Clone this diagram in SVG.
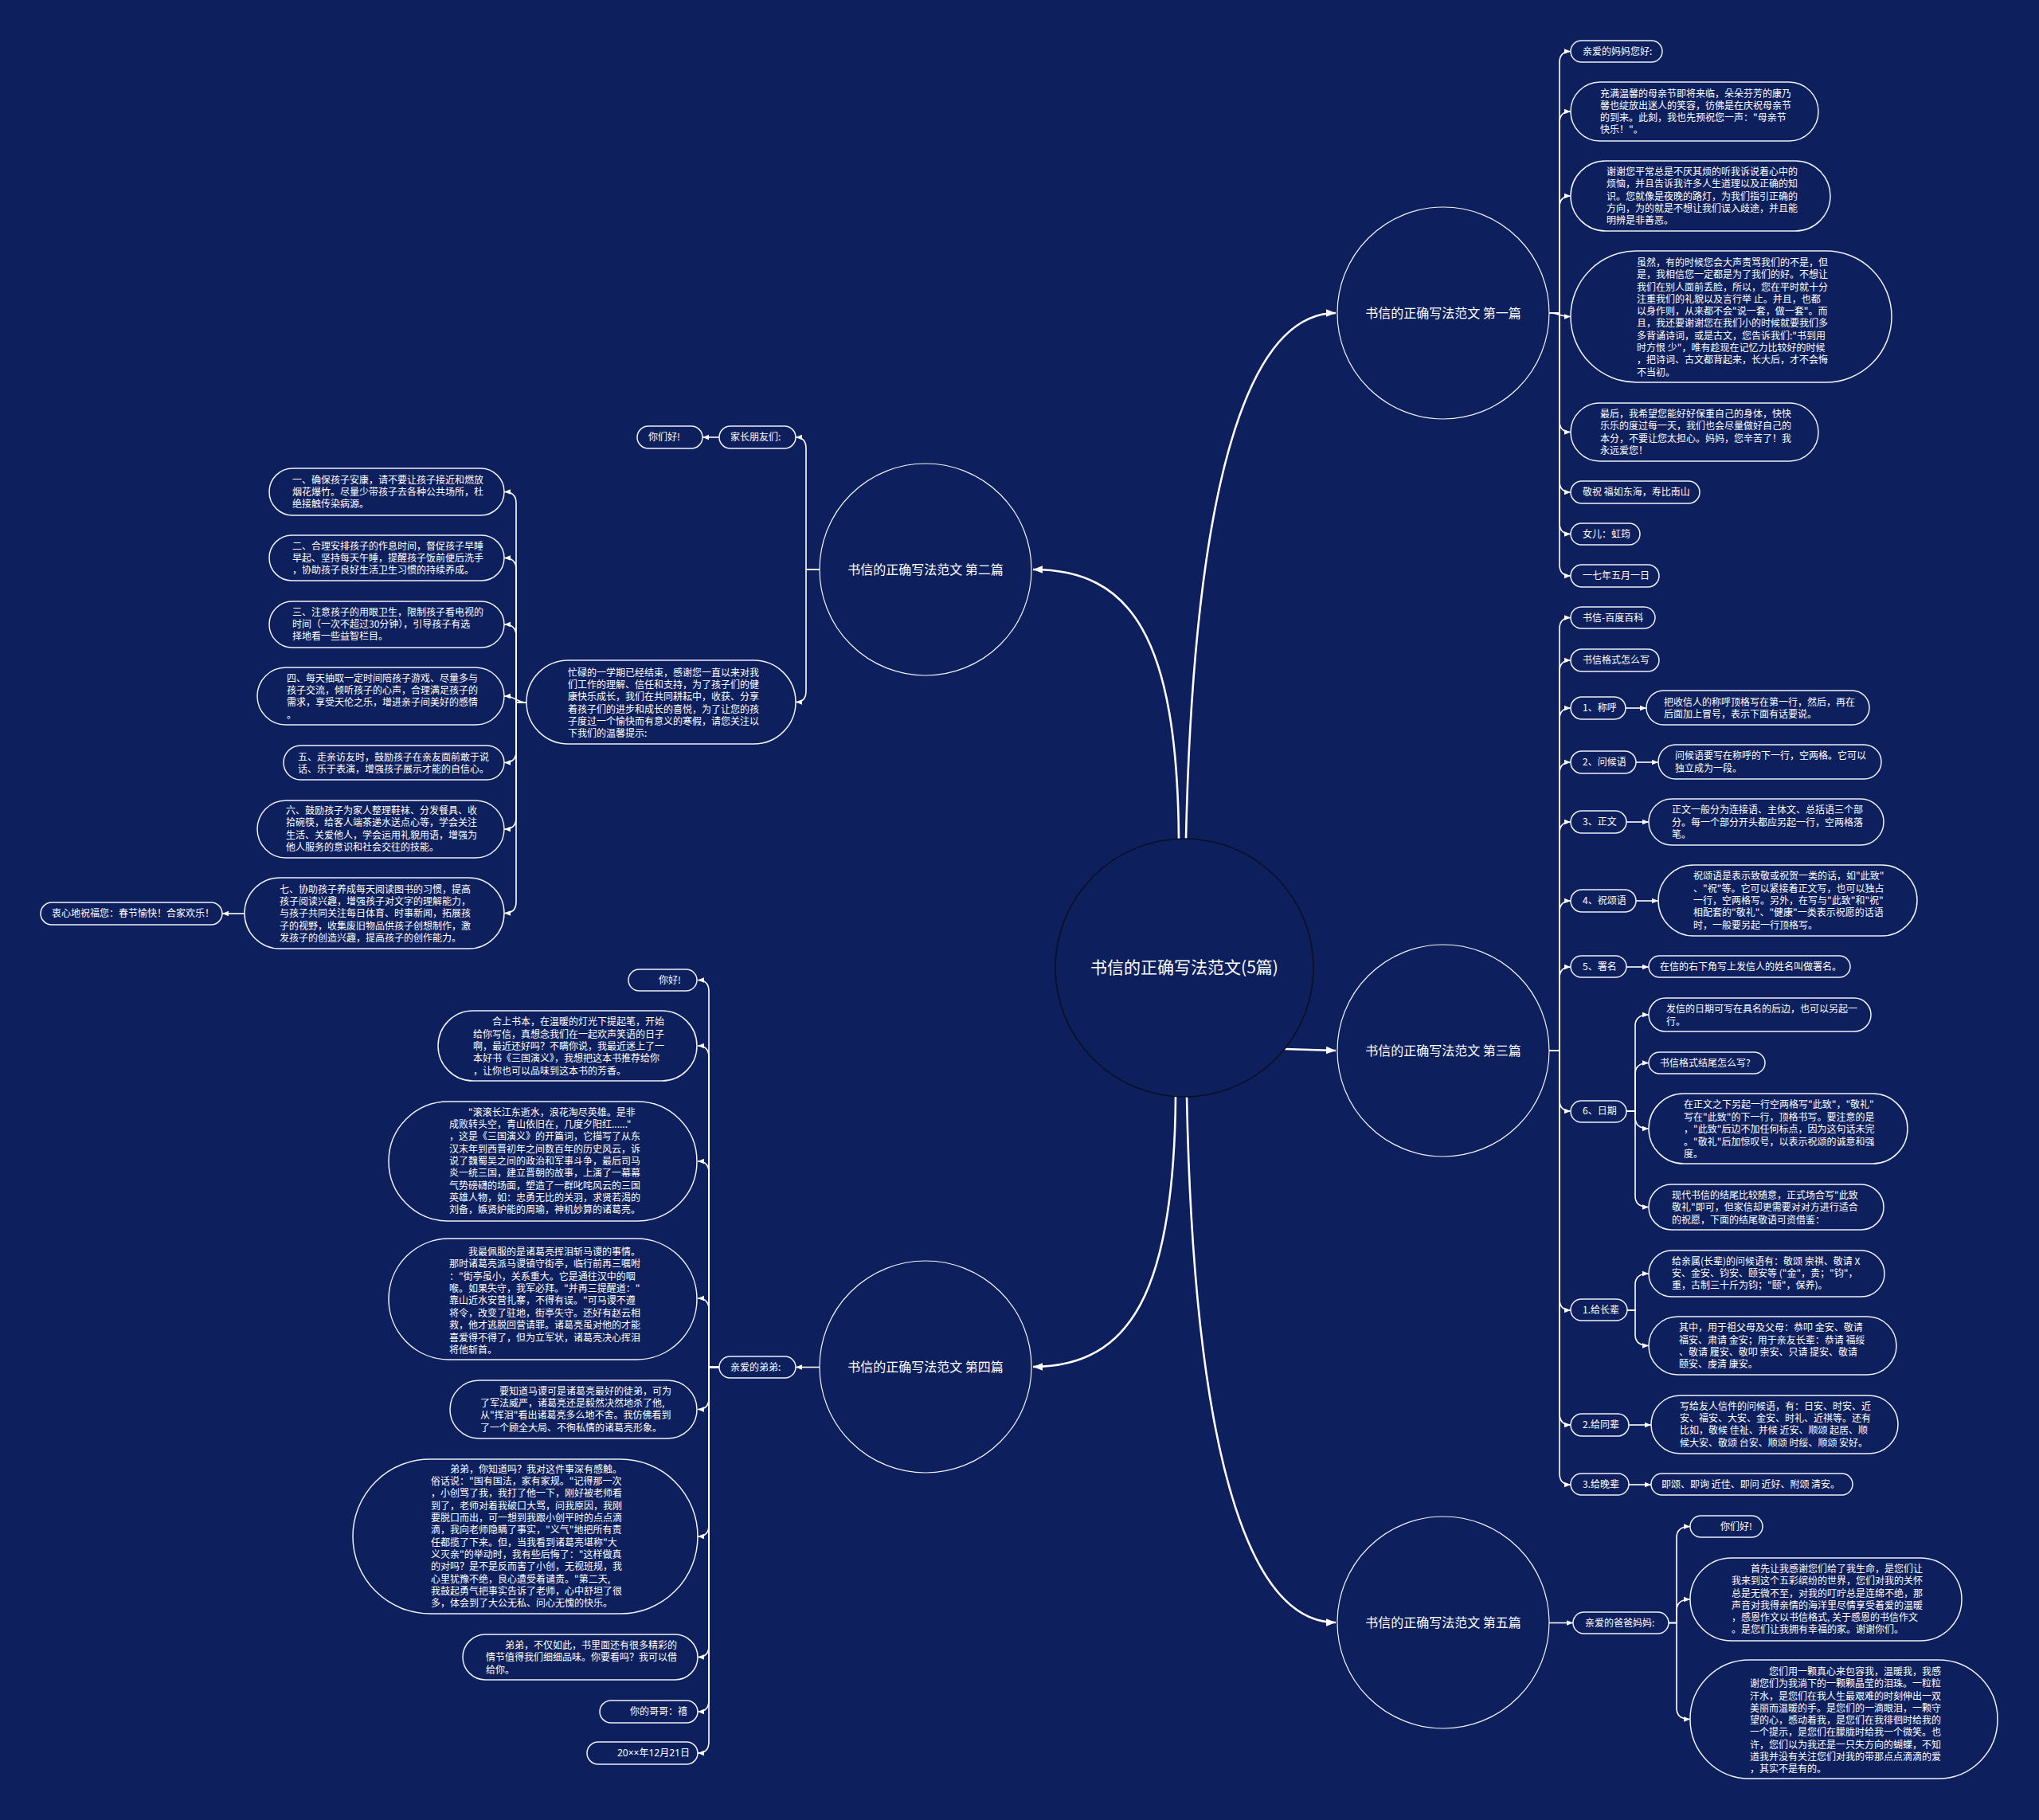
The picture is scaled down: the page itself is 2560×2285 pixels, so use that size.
<svg xmlns="http://www.w3.org/2000/svg" width="2560" height="2285" viewBox="0 0 2560 2285">
<defs>
<style>
.bg{fill:#0d1f5c}
.n{fill:#0d1f5c;stroke:#eef1f8;stroke-width:1.5}
.c{fill:#0d1f5c;stroke:#f2f4fa;stroke-width:1.2}
.root{fill:#0d1f5c;stroke:#0a0f22;stroke-width:1.5}
text{font-family:"Noto Sans CJK SC","Noto Sans",sans-serif;fill:#ffffff}
.t{font-size:12px}
.b{font-size:16px;text-anchor:middle}
.r{font-size:21px;text-anchor:middle}
.l{fill:none;stroke:#ffffff;stroke-width:1.6}
.m{fill:none;stroke:#ffffff;stroke-width:2.6}
.x{font-family:"Noto Sans","Noto Sans CJK SC",sans-serif}
</style>
<marker id="a" viewBox="0 0 10 10" refX="10" refY="5" markerWidth="8" markerHeight="8" markerUnits="userSpaceOnUse" orient="auto"><path d="M0,1 L10,5 L0,9 z" fill="#ffffff"/></marker>
<marker id="A" viewBox="0 0 10 10" refX="10" refY="5" markerWidth="12" markerHeight="12" markerUnits="userSpaceOnUse" orient="auto"><path d="M0,1 L10,5 L0,9 z" fill="#ffffff"/></marker>
</defs>
<rect class="bg" x="0" y="0" width="2560" height="2285"/>

<g id="connectors">
<path class="m" marker-end="url(#A)" d="M1489,1053 C1500,560 1580,393 1677,393"/>
<path class="m" marker-end="url(#A)" d="M1480,1053 C1478,800 1420,715 1297,715"/>
<path class="m" marker-end="url(#A)" d="M1613,1317 L1677,1319"/>
<path class="m" marker-end="url(#A)" d="M1476,1377 C1474,1620 1420,1716 1297,1716"/>
<path class="m" marker-end="url(#A)" d="M1490,1377 C1500,1870 1580,2037 1677,2037"/>

<path class="l" marker-end="url(#a)" d="M1945,393 H1958 V78.5 Q1958,64.5 1972,64.5"/>
<path class="l" marker-end="url(#a)" d="M1945,393 H1958 V154 Q1958,140 1972,140"/>
<path class="l" marker-end="url(#a)" d="M1945,393 H1958 V260 Q1958,246 1972,246"/>
<path class="l" marker-end="url(#a)" d="M1945,393 C1958,393 1958,397.5 1972,397.5"/>
<path class="l" marker-end="url(#a)" d="M1945,393 H1958 V528.5 Q1958,542.5 1972,542.5"/>
<path class="l" marker-end="url(#a)" d="M1945,393 H1958 V604 Q1958,618 1972,618"/>
<path class="l" marker-end="url(#a)" d="M1945,393 H1958 V656.5 Q1958,670.5 1972,670.5"/>
<path class="l" marker-end="url(#a)" d="M1945,393 H1958 V709 Q1958,723 1972,723"/>

<path class="l" marker-end="url(#a)" d="M1945,1319 H1958 V789.5 Q1958,775.5 1972,775.5"/>
<path class="l" marker-end="url(#a)" d="M1945,1319 H1958 V843 Q1958,829 1972,829"/>
<path class="l" marker-end="url(#a)" d="M1945,1319 H1958 V903 Q1958,889 1972,889"/>
<path class="l" marker-end="url(#a)" d="M1945,1319 H1958 V971 Q1958,957 1972,957"/>
<path class="l" marker-end="url(#a)" d="M1945,1319 H1958 V1046 Q1958,1032 1972,1032"/>
<path class="l" marker-end="url(#a)" d="M1945,1319 H1958 V1145 Q1958,1131 1972,1131"/>
<path class="l" marker-end="url(#a)" d="M1945,1319 H1958 V1228 Q1958,1214 1972,1214"/>
<path class="l" marker-end="url(#a)" d="M1945,1319 H1958 V1381 Q1958,1395 1972,1395"/>
<path class="l" marker-end="url(#a)" d="M1945,1319 H1958 V1631 Q1958,1645 1972,1645"/>
<path class="l" marker-end="url(#a)" d="M1945,1319 H1958 V1775 Q1958,1789 1972,1789"/>
<path class="l" marker-end="url(#a)" d="M1945,1319 H1958 V1850 Q1958,1864 1972,1864"/>
<path class="l" marker-end="url(#a)" d="M2041,889 H2067"/>
<path class="l" marker-end="url(#a)" d="M2054,957 H2082"/>
<path class="l" marker-end="url(#a)" d="M2042,1032 H2070"/>
<path class="l" marker-end="url(#a)" d="M2054,1131 H2082"/>
<path class="l" marker-end="url(#a)" d="M2042,1214 H2070"/>
<path class="l" marker-end="url(#a)" d="M2042,1395 H2053 V1288 Q2053,1274 2070,1274"/>
<path class="l" marker-end="url(#a)" d="M2042,1395 H2053 V1348.5 Q2053,1334.5 2070,1334.5"/>
<path class="l" marker-end="url(#a)" d="M2042,1395 H2053 V1403 Q2053,1417 2070,1417"/>
<path class="l" marker-end="url(#a)" d="M2042,1395 H2053 V1501.5 Q2053,1515.5 2070,1515.5"/>
<path class="l" marker-end="url(#a)" d="M2043,1645 H2053 V1613 Q2053,1599 2070,1599"/>
<path class="l" marker-end="url(#a)" d="M2043,1645 H2053 V1675.5 Q2053,1689.5 2070,1689.5"/>
<path class="l" marker-end="url(#a)" d="M2045,1789 H2073"/>
<path class="l" marker-end="url(#a)" d="M2045,1864 H2073"/>

<path class="l" marker-end="url(#a)" d="M1945,2037.5 H1975"/>
<path class="l" marker-end="url(#a)" d="M2095,2037.5 H2105 V1930.5 Q2105,1916.5 2122,1916.5"/>
<path class="l" marker-end="url(#a)" d="M2095,2037.5 H2105 V2022 Q2105,2008 2122,2008"/>
<path class="l" marker-end="url(#a)" d="M2095,2037.5 H2105 V2144.5 Q2105,2158.5 2122,2158.5"/>

<path class="l" marker-end="url(#a)" d="M1029,715 H1012 V563 Q1012,549 999,549"/>
<path class="l" marker-end="url(#a)" d="M1029,715 H1012 V867.5 Q1012,881.5 999,881.5"/>
<path class="l" marker-end="url(#a)" d="M903,549 H882"/>
<path class="l" marker-end="url(#a)" d="M661,882 H648 V631.5 Q648,617.5 633,617.5"/>
<path class="l" marker-end="url(#a)" d="M661,882 H648 V714.5 Q648,700.5 633,700.5"/>
<path class="l" marker-end="url(#a)" d="M661,882 H648 V798 Q648,784 633,784"/>
<path class="l" marker-end="url(#a)" d="M661,882 C648,882 648,874 633,874"/>
<path class="l" marker-end="url(#a)" d="M661,882 H648 V943.5 Q648,957.5 633,957.5"/>
<path class="l" marker-end="url(#a)" d="M661,882 H648 V1027 Q648,1041 633,1041"/>
<path class="l" marker-end="url(#a)" d="M661,882 H648 V1132.5 Q648,1146.5 633,1146.5"/>
<path class="l" marker-end="url(#a)" d="M307,1147 H279"/>

<path class="l" marker-end="url(#a)" d="M1029,1716.5 H999"/>
<path class="l" marker-end="url(#a)" d="M903,1716.5 H890 V1244.5 Q890,1230.5 876,1230.5"/>
<path class="l" marker-end="url(#a)" d="M903,1716.5 H890 V1327 Q890,1313 876,1313"/>
<path class="l" marker-end="url(#a)" d="M903,1716.5 H890 V1472 Q890,1458 876,1458"/>
<path class="l" marker-end="url(#a)" d="M903,1716.5 H890 V1644 Q890,1630 876,1630"/>
<path class="l" marker-end="url(#a)" d="M903,1716.5 H890 V1755.5 Q890,1769.5 876,1769.5"/>
<path class="l" marker-end="url(#a)" d="M903,1716.5 H890 V1915 Q890,1929 876,1929"/>
<path class="l" marker-end="url(#a)" d="M903,1716.5 H890 V2066.5 Q890,2080.5 876,2080.5"/>
<path class="l" marker-end="url(#a)" d="M903,1716.5 H890 V2135 Q890,2149 876,2149"/>
<path class="l" marker-end="url(#a)" d="M903,1716.5 H890 V2187 Q890,2201 876,2201"/>
</g>

<g id="root"><circle class="root" cx="1487" cy="1215" r="162"/><text class="r" x="1487" y="1222">书信的正确写法范文(5篇)</text></g>

<g id="b1"><circle class="c" cx="1812" cy="393" r="133"/><text class="b" x="1812" y="399">书信的正确写法范文 第一篇</text></g>
<g id="b2"><circle class="c" cx="1162" cy="715" r="133"/><text class="b" x="1162" y="721">书信的正确写法范文 第二篇</text></g>
<g id="b3"><circle class="c" cx="1812" cy="1319" r="133"/><text class="b" x="1812" y="1325">书信的正确写法范文 第三篇</text></g>
<g id="b4"><circle class="c" cx="1162" cy="1716" r="133"/><text class="b" x="1162" y="1722">书信的正确写法范文 第四篇</text></g>
<g id="b5"><circle class="c" cx="1812" cy="2037" r="133"/><text class="b" x="1812" y="2043">书信的正确写法范文 第五篇</text></g>

<g id="n1_1"><rect class="n" x="1972" y="51" width="115" height="27" rx="13.5"/><text class="t" x="1987" y="68.5">亲爱的妈妈您好:</text></g>
<g id="n1_2"><rect class="n" x="1972" y="103" width="311" height="74" rx="37"/><text class="t"><tspan x="2009" y="122">充满温馨的母亲节即将来临，朵朵芬芳的康乃</tspan><tspan x="2009" y="137">馨也绽放出迷人的笑容，彷佛是在庆祝母亲节</tspan><tspan x="2009" y="152">的到来。此刻，我也先预祝您一声："母亲节</tspan><tspan x="2009" y="167">快乐！"。</tspan></text></g>
<g id="n1_3"><rect class="n" x="1972" y="202" width="326" height="88" rx="44"/><text class="t"><tspan x="2017" y="220">谢谢您平常总是不厌其烦的听我诉说着心中的</tspan><tspan x="2017" y="235">烦恼，并且告诉我许多人生道理以及正确的知</tspan><tspan x="2017" y="251">识。您就像是夜晚的路灯，为我们指引正确的</tspan><tspan x="2017" y="266">方向，为的就是不想让我们误入歧途，并且能</tspan><tspan x="2017" y="281">明辨是非善恶。</tspan></text></g>
<g id="n1_4"><rect class="n" x="1972" y="315" width="403" height="165" rx="82.5"/><text class="t"><tspan x="2055" y="334">虽然，有的时候您会大声责骂我们的不是，但</tspan><tspan x="2055" y="349">是，我相信您一定都是为了我们的好。不想让</tspan><tspan x="2055" y="365">我们在别人面前丢脸，所以，您在平时就十分</tspan><tspan x="2055" y="380">注重我们的礼貌以及言行举 止。并且，也都</tspan><tspan x="2055" y="395">以身作则，从来都不会"说一套，做一套"。而</tspan><tspan x="2055" y="410">且，我还要谢谢您在我们小的时候就要我们多</tspan><tspan x="2055" y="426">多背诵诗词，或是古文，您告诉我们:"书到用</tspan><tspan x="2055" y="441">时方恨 少"，唯有趁现在记忆力比较好的时候</tspan><tspan x="2055" y="456">，把诗词、古文都背起来，长大后，才不会悔</tspan><tspan x="2055" y="472">不当初。</tspan></text></g>
<g id="n1_5"><rect class="n" x="1972" y="506" width="311" height="73" rx="36.5"/><text class="t"><tspan x="2009" y="524">最后，我希望您能好好保重自己的身体，快快</tspan><tspan x="2009" y="539">乐乐的度过每一天，我们也会尽量做好自己的</tspan><tspan x="2009" y="555">本分，不要让您太担心。妈妈，您辛苦了！我</tspan><tspan x="2009" y="570">永远爱您！</tspan></text></g>
<g id="n1_6"><rect class="n" x="1972" y="604" width="162" height="28" rx="14"/><text class="t" x="1987" y="622">敬祝 福如东海，寿比南山</text></g>
<g id="n1_7"><rect class="n" x="1972" y="657" width="87" height="27" rx="13.5"/><text class="t" x="1987" y="674.5">女儿：虹筠</text></g>
<g id="n1_8"><rect class="n" x="1972" y="709" width="111" height="28" rx="14"/><text class="t" x="1987" y="727">一七年五月一日</text></g>

<g id="n3_1"><rect class="n" x="1972" y="762" width="106" height="27" rx="13.5"/><text class="t" x="1987" y="779.5">书信-百度百科</text></g>
<g id="n3_2"><rect class="n" x="1972" y="815" width="111" height="28" rx="14"/><text class="t" x="1987" y="833">书信格式怎么写</text></g>
<g id="n3_3"><rect class="n" x="1972" y="875" width="69" height="28" rx="14"/><text class="t" x="1987" y="893">1、称呼</text></g>
<g id="n3_3c"><rect class="n" x="2067" y="867" width="280" height="43" rx="21.5"/><text class="t"><tspan x="2089" y="886">把收信人的称呼顶格写在第一行，然后，再在</tspan><tspan x="2089" y="901">后面加上冒号，表示下面有话要说。</tspan></text></g>
<g id="n3_4"><rect class="n" x="1972" y="943" width="82" height="28" rx="14"/><text class="t" x="1987" y="961">2、问候语</text></g>
<g id="n3_4c"><rect class="n" x="2082" y="935" width="280" height="43" rx="21.5"/><text class="t"><tspan x="2103" y="953">问候语要写在称呼的下一行，空两格。它可以</tspan><tspan x="2103" y="969">独立成为一段。</tspan></text></g>
<g id="n3_5"><rect class="n" x="1972" y="1018" width="70" height="28" rx="14"/><text class="t" x="1987" y="1036">3、正文</text></g>
<g id="n3_5c"><rect class="n" x="2070" y="1003" width="295" height="58" rx="29"/><text class="t"><tspan x="2099" y="1021">正文一般分为连接语、主体文、总括语三个部</tspan><tspan x="2099" y="1036.5">分。每一个部分开头都应另起一行，空两格落</tspan><tspan x="2099" y="1051.5">笔。</tspan></text></g>
<g id="n3_6"><rect class="n" x="1972" y="1117" width="82" height="28" rx="14"/><text class="t" x="1987" y="1135">4、祝颂语</text></g>
<g id="n3_6c"><rect class="n" x="2082" y="1086" width="325" height="89" rx="44.5"/><text class="t"><tspan x="2126" y="1104">祝颂语是表示致敬或祝贺一类的话，如"此致"</tspan><tspan x="2126" y="1120">、"祝"等。它可以紧接着正文写，也可以独占</tspan><tspan x="2126" y="1135">一行，空两格写。另外，在写与"此致"和"祝"</tspan><tspan x="2126" y="1150">相配套的"敬礼"、"健康"一类表示祝愿的话语</tspan><tspan x="2126" y="1166">时，一般要另起一行顶格写。</tspan></text></g>
<g id="n3_7"><rect class="n" x="1972" y="1200" width="70" height="27" rx="13.5"/><text class="t" x="1987" y="1218">5、署名</text></g>
<g id="n3_7c"><rect class="n" x="2070" y="1200" width="253" height="27" rx="13.5"/><text class="t" x="2084" y="1218">在信的右下角写上发信人的姓名叫做署名。</text></g>
<g id="n3_8"><rect class="n" x="1972" y="1382" width="70" height="27" rx="13.5"/><text class="t" x="1987" y="1399">6、日期</text></g>
<g id="n3_8a"><rect class="n" x="2070" y="1253" width="279" height="42" rx="21"/><text class="t"><tspan x="2092" y="1271">发信的日期可写在具名的后边，也可以另起一</tspan><tspan x="2092" y="1287">行。</tspan></text></g>
<g id="n3_8b"><rect class="n" x="2070" y="1321" width="146" height="27" rx="13.5"/><text class="t" x="2084" y="1339">书信格式结尾怎么写?</text></g>
<g id="n3_8c"><rect class="n" x="2070" y="1373" width="325" height="88" rx="44"/><text class="t"><tspan x="2114" y="1391">在正文之下另起一行空两格写"此致"，"敬礼"</tspan><tspan x="2114" y="1407">写在"此致"的下一行，顶格书写。要注意的是</tspan><tspan x="2114" y="1422">，"此致"后边不加任何标点，因为这句话未完</tspan><tspan x="2114" y="1438">。"敬礼"后加惊叹号，以表示祝颂的诚意和强</tspan><tspan x="2114" y="1453">度。</tspan></text></g>
<g id="n3_8d"><rect class="n" x="2070" y="1487" width="295" height="57" rx="28.5"/><text class="t"><tspan x="2099" y="1505">现代书信的结尾比较随意，正式场合写"此致</tspan><tspan x="2099" y="1520">敬礼"即可，但家信却更需要对对方进行适合</tspan><tspan x="2099" y="1536">的祝愿，下面的结尾敬语可资借鉴：</tspan></text></g>
<g id="n3_9"><rect class="n" x="1972" y="1631" width="71" height="27" rx="13.5"/><text class="t" x="1987" y="1649">1.给长辈</text></g>
<g id="n3_9a"><rect class="n" x="2070" y="1570" width="296" height="58" rx="29"/><text class="t"><tspan x="2099" y="1588">给亲属(长辈)的问候语有：敬颂 崇祺、敬请 X</tspan><tspan x="2099" y="1603">安、金安、钧安、颐安等 ("金"，贵；"钧"，</tspan><tspan x="2099" y="1618">重，古制三十斤为钧；"颐"，保养)。</tspan></text></g>
<g id="n3_9b"><rect class="n" x="2070" y="1653" width="311" height="73" rx="36.5"/><text class="t"><tspan x="2108" y="1671">其中，用于祖父母及父母：恭叩 金安、敬请</tspan><tspan x="2108" y="1687">福安、肃请 金安；用于亲友长辈：恭请 福绥</tspan><tspan x="2108" y="1702">、敬请 履安、敬叩 崇安、只请 提安、敬请</tspan><tspan x="2108" y="1717">颐安、虔清 康安。</tspan></text></g>
<g id="n3_10"><rect class="n" x="1972" y="1775" width="73" height="28" rx="14"/><text class="t" x="1987" y="1793">2.给同辈</text></g>
<g id="n3_10c"><rect class="n" x="2073" y="1752" width="310" height="73" rx="36.5"/><text class="t"><tspan x="2109" y="1770">写给友人信件的问候语，有：日安、时安、近</tspan><tspan x="2109" y="1785">安、福安、大安、金安、时礼、近祺等。还有</tspan><tspan x="2109" y="1800">比如，敬候 佳祉、并候 近安、顺颂 起居、顺</tspan><tspan x="2109" y="1816">候大安、敬颂 台安、顺颂 时绥、顺颂 安好。</tspan></text></g>
<g id="n3_11"><rect class="n" x="1972" y="1850" width="73" height="27" rx="13.5"/><text class="t" x="1987" y="1868">3.给晚辈</text></g>
<g id="n3_11c"><rect class="n" x="2073" y="1850" width="253" height="27" rx="13.5"/><text class="t" x="2086" y="1868">即颂、即询 近佳、即问 近好、附颂 清安。</text></g>

<g id="n5_1"><rect class="n" x="1975" y="2024" width="120" height="27" rx="13.5"/><text class="t" x="1990" y="2041.5">亲爱的爸爸妈妈:</text></g>
<g id="n5_1a"><rect class="n" x="2122" y="1903" width="91" height="27" rx="13.5"/><text class="t" x="2160" y="1920.5">你们好!</text></g>
<g id="n5_1b"><rect class="n" x="2122" y="1956" width="341" height="104" rx="52"/><text class="t"><tspan x="2174" y="1974">　　首先让我感谢您们给了我生命，是您们让</tspan><tspan x="2174" y="1989">我来到这个五彩缤纷的世界，您们对我的关怀</tspan><tspan x="2174" y="2005">总是无微不至，对我的叮咛总是连绵不绝，那</tspan><tspan x="2174" y="2020">声音对我得亲情的海洋里尽情享受着爱的温暖</tspan><tspan x="2174" y="2035">，感恩作文以书信格式, 关于感恩的书信作文</tspan><tspan x="2174" y="2050">。是您们让我拥有幸福的家。谢谢你们。</tspan></text></g>
<g id="n5_1c"><rect class="n" x="2122" y="2084" width="386" height="149" rx="74.5"/><text class="t"><tspan x="2197" y="2103">　　您们用一颗真心来包容我，温暖我，我感</tspan><tspan x="2197" y="2118">谢您们为我淌下的一颗颗晶莹的泪珠。一粒粒</tspan><tspan x="2197" y="2134">汗水，是您们在我人生最艰难的时刻伸出一双</tspan><tspan x="2197" y="2149">美丽而温暖的手。是您们的一滴眼泪，一颗守</tspan><tspan x="2197" y="2164">望的心，感动着我，是您们在我徘徊时给我的</tspan><tspan x="2197" y="2179">一个提示，是您们在朦胧时给我一个微笑。也</tspan><tspan x="2197" y="2195">许，您们以为我还是一只失方向的蝴蝶，不知</tspan><tspan x="2197" y="2210">道我并没有关注您们对我的带那点点滴滴的爱</tspan><tspan x="2197" y="2225">，其实不是有的。</tspan></text></g>

<g id="n2_1"><rect class="n" x="903" y="535" width="96" height="28" rx="14"/><text class="t" x="917" y="553">家长朋友们:</text></g>
<g id="n2_1a"><rect class="n" x="800" y="535" width="82" height="28" rx="14"/><text class="t" x="814" y="553">你们好!</text></g>
<g id="n2_2"><rect class="n" x="661" y="829" width="338" height="105" rx="52.5"/><text class="t"><tspan x="713" y="848.5">忙碌的一学期已经结束，感谢您一直以来对我</tspan><tspan x="713" y="864">们工作的理解、信任和支持，为了孩子们的健</tspan><tspan x="713" y="879">康快乐成长，我们在共同耕耘中，收获、分享</tspan><tspan x="713" y="894.5">着孩子们的进步和成长的喜悦，为了让您的孩</tspan><tspan x="713" y="910">子度过一个愉快而有意义的寒假，请您关注以</tspan><tspan x="713" y="925">下我们的温馨提示:</tspan></text></g>
<g id="n2_2_1"><rect class="n" x="338" y="588" width="295" height="59" rx="29.5"/><text class="t"><tspan x="367" y="607">一、确保孩子安康，请不要让孩子接近和燃放</tspan><tspan x="367" y="622">烟花爆竹。尽量少带孩子去各种公共场所，杜</tspan><tspan x="367" y="637">绝接触传染病源。</tspan></text></g>
<g id="n2_2_2"><rect class="n" x="338" y="672" width="295" height="57" rx="28.5"/><text class="t"><tspan x="367" y="690">二、合理安排孩子的作息时间，督促孩子早睡</tspan><tspan x="367" y="705">早起、坚持每天午睡，提醒孩子饭前便后洗手</tspan><tspan x="367" y="720">，协助孩子良好生活卫生习惯的持续养成。</tspan></text></g>
<g id="n2_2_3"><rect class="n" x="338" y="755" width="295" height="58" rx="29"/><text class="t"><tspan x="367" y="773">三、注意孩子的用眼卫生，限制孩子看电视的</tspan><tspan x="367" y="788">时间（一次不超过30分钟），引导孩子有选</tspan><tspan x="367" y="803">择地看一些益智栏目。</tspan></text></g>
<g id="n2_2_4"><rect class="n" x="323" y="838" width="310" height="72" rx="36"/><text class="t"><tspan x="360" y="856">四、每天抽取一定时间陪孩子游戏、尽量多与</tspan><tspan x="360" y="871">孩子交流，倾听孩子的心声，合理满足孩子的</tspan><tspan x="360" y="886">需求，享受天伦之乐，增进亲子间美好的感情</tspan><tspan x="360" y="902">。</tspan></text></g>
<g id="n2_2_5"><rect class="n" x="356" y="936" width="277" height="43" rx="21.5"/><text class="t"><tspan x="374" y="955">五、走亲访友时，鼓励孩子在亲友面前敢于说</tspan><tspan x="374" y="970">话、乐于表演，增强孩子展示才能的自信心。</tspan></text></g>
<g id="n2_2_6"><rect class="n" x="323" y="1005" width="310" height="72" rx="36"/><text class="t"><tspan x="359" y="1022">六、鼓励孩子为家人整理鞋袜、分发餐具、收</tspan><tspan x="359" y="1037">拾碗筷，给客人端茶递水送点心等，学会关注</tspan><tspan x="359" y="1053">生活、关爱他人，学会运用礼貌用语，增强为</tspan><tspan x="359" y="1068">他人服务的意识和社会交往的技能。</tspan></text></g>
<g id="n2_2_7"><rect class="n" x="307" y="1102" width="326" height="89" rx="44.5"/><text class="t"><tspan x="351" y="1121">七、协助孩子养成每天阅读图书的习惯，提高</tspan><tspan x="351" y="1136">孩子阅读兴趣，增强孩子对文字的理解能力，</tspan><tspan x="351" y="1151">与孩子共同关注每日体育、时事新闻，拓展孩</tspan><tspan x="351" y="1167">子的视野，收集废旧物品供孩子创想制作，激</tspan><tspan x="351" y="1182">发孩子的创造兴趣，提高孩子的创作能力。</tspan></text></g>
<g id="n2_2_7a"><rect class="n" x="51" y="1133" width="228" height="28" rx="14"/><text class="t" x="65" y="1151">衷心地祝福您：春节愉快！合家欢乐！</text></g>

<g id="n4_1"><rect class="n" x="903" y="1703" width="96" height="27" rx="13.5"/><text class="t" x="917" y="1720.5">亲爱的弟弟:</text></g>
<g id="n4_1a"><rect class="n" x="789" y="1217" width="86" height="27" rx="13.5"/><text class="t" x="827" y="1234.5">你好!</text></g>
<g id="n4_1b"><rect class="n" x="550" y="1269" width="325" height="88" rx="44"/><text class="t"><tspan x="594" y="1287">　　合上书本，在温暖的灯光下提起笔，开始</tspan><tspan x="594" y="1303">给你写信，真想念我们在一起欢声笑语的日子</tspan><tspan x="594" y="1318">啊，最近还好吗？不瞒你说，我最近迷上了一</tspan><tspan x="594" y="1333">本好书《三国演义》，我想把这本书推荐给你</tspan><tspan x="594" y="1349">，让你也可以品味到这本书的芳香。</tspan></text></g>
<g id="n4_1c"><rect class="n" x="488" y="1383" width="387" height="150" rx="75"/><text class="t"><tspan x="564" y="1401">　　"滚滚长江东逝水，浪花淘尽英雄。是非</tspan><tspan x="564" y="1416">成败转头空，青山依旧在，几度夕阳红......"</tspan><tspan x="564" y="1431">，这是《三国演义》的开篇词，它描写了从东</tspan><tspan x="564" y="1447">汉末年到西晋初年之间数百年的历史风云，诉</tspan><tspan x="564" y="1462">说了魏蜀吴之间的政治和军事斗争，最后司马</tspan><tspan x="564" y="1477">炎一统三国，建立晋朝的故事，上演了一幕幕</tspan><tspan x="564" y="1493">气势磅礴的场面，塑造了一群叱咤风云的三国</tspan><tspan x="564" y="1508">英雄人物，如：忠勇无比的关羽，求贤若渴的</tspan><tspan x="564" y="1523">刘备，嫉贤妒能的周瑜，神机妙算的诸葛亮。</tspan></text></g>
<g id="n4_1d"><rect class="n" x="488" y="1555" width="387" height="152" rx="76"/><text class="t"><tspan x="564" y="1576">　　我最佩服的是诸葛亮挥泪斩马谡的事情。</tspan><tspan x="564" y="1591">那时诸葛亮派马谡镇守街亭，临行前再三嘱咐</tspan><tspan x="564" y="1607">："街亭虽小，关系重大。它是通往汉中的咽</tspan><tspan x="564" y="1622">喉。如果失守，我军必拜。"并再三提醒道："</tspan><tspan x="564" y="1637">靠山近水安营扎寨，不得有误。"可马谡不遵</tspan><tspan x="564" y="1653">将令，改变了驻地，街亭失守。还好有赵云相</tspan><tspan x="564" y="1668">救，他才逃脱回营请罪。诸葛亮虽对他的才能</tspan><tspan x="564" y="1684">喜爱得不得了，但为立军状，诸葛亮决心挥泪</tspan><tspan x="564" y="1699">将他斩首。</tspan></text></g>
<g id="n4_1e"><rect class="n" x="565" y="1733" width="310" height="73" rx="36.5"/><text class="t"><tspan x="603" y="1751">　　要知道马谡可是诸葛亮最好的徒弟，可为</tspan><tspan x="603" y="1766">了军法威严，诸葛亮还是毅然决然地杀了他,</tspan><tspan x="603" y="1781">从"挥泪"看出诸葛亮多么地不舍。我仿佛看到</tspan><tspan x="603" y="1797">了一个顾全大局、不徇私情的诸葛亮形象。</tspan></text></g>
<g id="n4_1f"><rect class="n" x="443" y="1832" width="433" height="194" rx="97"/><text class="t"><tspan x="541" y="1849">　　弟弟，你知道吗？我对这件事深有感触。</tspan><tspan x="541" y="1864">俗话说："国有国法，家有家规。"记得那一次</tspan><tspan x="541" y="1879">，小创骂了我，我打了他一下，刚好被老师看</tspan><tspan x="541" y="1895">到了，老师对着我破口大骂，问我原因，我刚</tspan><tspan x="541" y="1910">要脱口而出，可一想到我跟小创平时的点点滴</tspan><tspan x="541" y="1925">滴，我向老师隐瞒了事实，"义气"地把所有责</tspan><tspan x="541" y="1941">任都揽了下来。但，当我看到诸葛亮堪称"大</tspan><tspan x="541" y="1956">义灭亲"的举动时，我有些后悔了："这样做真</tspan><tspan x="541" y="1971">的对吗？是不是反而害了小创，无视班规，我</tspan><tspan x="541" y="1987">心里犹豫不绝，良心遭受着谴责。"第二天,</tspan><tspan x="541" y="2002">我鼓起勇气把事实告诉了老师，心中舒坦了很</tspan><tspan x="541" y="2017">多，体会到了大公无私、问心无愧的快乐。</tspan></text></g>
<g id="n4_1g"><rect class="n" x="581" y="2052" width="295" height="57" rx="28.5"/><text class="t"><tspan x="610" y="2070">　　弟弟，不仅如此，书里面还有很多精彩的</tspan><tspan x="610" y="2085">情节值得我们细细品味。你要看吗？我可以借</tspan><tspan x="610" y="2101">给你。</tspan></text></g>
<g id="n4_1h"><rect class="n" x="753" y="2135" width="123" height="28" rx="14"/><text class="t" x="791" y="2152.5">你的哥哥：禧</text></g>
<g id="n4_1i"><rect class="n" x="737" y="2187" width="139" height="28" rx="14"/><text class="t x" x="775" y="2205">20××年12月21日</text></g>
</svg>
